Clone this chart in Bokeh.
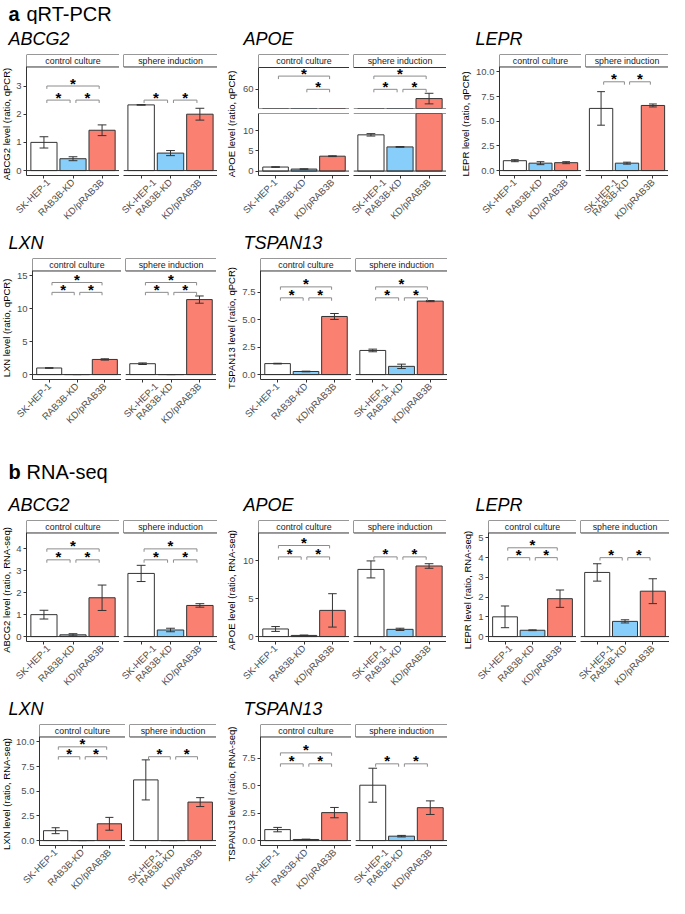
import math
from bokeh.plotting import figure
from bokeh.models import Range1d, FixedTicker, BoxAnnotation, Label, Span, Spacer
from bokeh.layouts import row, column
from bokeh.embed import file_html
from bokeh.resources import INLINE
from bokeh.core.properties import value

FONT = "Liberation Sans"
DARK = "#333333"
GREY = "#8c8c8c"

groups = ["SK-HEP-1", "RAB3B-KD", "KD/pRAB3B"]
conditions = ["control culture", "sphere induction"]
bar_colors = ["#FFFFFF", "#87CEFA", "#FA8072"]

# ---------------- a: qRT-PCR ----------------
qpcr_abcg2_ctrl = [1.0, 0.42, 1.43]
qpcr_abcg2_ctrl_err = [0.2, 0.07, 0.19]
qpcr_abcg2_sph = [2.33, 0.62, 2.0]
qpcr_abcg2_sph_err = [0.01, 0.09, 0.21]
qpcr_abcg2_ticks = [0, 1, 2, 3]
qpcr_abcg2_tick_labels = ["0", "1", "2", "3"]
qpcr_abcg2_limits = [-0.175, 3.675]
qpcr_abcg2_sig_ctrl = [(0, 1, 2.5), (1, 2, 2.5), (0, 2, 3.0)]
qpcr_abcg2_sig_sph = [(0, 1, 2.5), (1, 2, 2.5)]

qpcr_apoe_ctrl = [1.0, 0.5, 3.7]
qpcr_apoe_ctrl_err = [0.08, 0.05, 0.1]
qpcr_apoe_sph = [9.0, 6.0, 53.0]
qpcr_apoe_sph_err = [0.3, 0.1, 4.0]
qpcr_apoe_ticks = [0, 5, 10]
qpcr_apoe_tick_labels = ["0", "5", "10"]
qpcr_apoe_limits = [-1.1, 14.3]
qpcr_apoe_upper_ticks = [60]
qpcr_apoe_upper_tick_labels = ["60"]
qpcr_apoe_upper_limits = [45.5, 76.5]
qpcr_apoe_sig_ctrl = [(1, 2, 60.0), (0, 2, 70.0)]
qpcr_apoe_sig_sph = [(0, 1, 60.0), (1, 2, 60.0), (0, 2, 70.0)]

qpcr_lepr_ctrl = [1.0, 0.75, 0.8]
qpcr_lepr_ctrl_err = [0.1, 0.15, 0.1]
qpcr_lepr_sph = [6.3, 0.75, 6.6]
qpcr_lepr_sph_err = [1.7, 0.1, 0.15]
qpcr_lepr_ticks = [0, 2.5, 5, 7.5, 10]
qpcr_lepr_tick_labels = ["0.0", "2.5", "5.0", "7.5", "10.0"]
qpcr_lepr_limits = [-0.5, 10.5]
qpcr_lepr_sig_ctrl = []
qpcr_lepr_sig_sph = [(0, 1, 9.0), (1, 2, 9.0)]

qpcr_lxn_ctrl = [1.0, 0.0, 2.3]
qpcr_lxn_ctrl_err = [0.05, 0.0, 0.1]
qpcr_lxn_sph = [1.65, 0.0, 11.4]
qpcr_lxn_sph_err = [0.12, 0.0, 0.55]
qpcr_lxn_ticks = [0, 5, 10, 15]
qpcr_lxn_tick_labels = ["0", "5", "10", "15"]
qpcr_lxn_limits = [-0.75, 15.75]
qpcr_lxn_sig_ctrl = [(0, 1, 12.5), (1, 2, 12.5), (0, 2, 14.0)]
qpcr_lxn_sig_sph = [(0, 1, 12.5), (1, 2, 12.5), (0, 2, 14.0)]

qpcr_tspan13_ctrl = [1.0, 0.28, 5.3]
qpcr_tspan13_ctrl_err = [0.03, 0.03, 0.27]
qpcr_tspan13_sph = [2.2, 0.75, 6.7]
qpcr_tspan13_sph_err = [0.12, 0.2, 0.05]
qpcr_tspan13_ticks = [0, 2.5, 5, 7.5]
qpcr_tspan13_tick_labels = ["0.0", "2.5", "5.0", "7.5"]
qpcr_tspan13_limits = [-0.45, 9.45]
qpcr_tspan13_sig_ctrl = [(0, 1, 7.0), (1, 2, 7.0), (0, 2, 8.0)]
qpcr_tspan13_sig_sph = [(0, 1, 7.0), (1, 2, 7.0), (0, 2, 8.0)]

# ---------------- b: RNA-seq ----------------
rna_abcg2_ctrl = [1.0, 0.08, 1.77]
rna_abcg2_ctrl_err = [0.2, 0.05, 0.58]
rna_abcg2_sph = [2.88, 0.3, 1.42]
rna_abcg2_sph_err = [0.37, 0.08, 0.08]
rna_abcg2_ticks = [0, 1, 2, 3, 4]
rna_abcg2_tick_labels = ["0", "1", "2", "3", "4"]
rna_abcg2_limits = [-0.225, 4.725]
rna_abcg2_sig_ctrl = [(0, 1, 3.5), (1, 2, 3.5), (0, 2, 4.0)]
rna_abcg2_sig_sph = [(0, 1, 3.5), (1, 2, 3.5), (0, 2, 4.0)]

rna_apoe_ctrl = [1.0, 0.15, 3.45]
rna_apoe_ctrl_err = [0.32, 0.05, 2.2]
rna_apoe_sph = [8.85, 0.95, 9.3]
rna_apoe_sph_err = [1.12, 0.15, 0.3]
rna_apoe_ticks = [0, 5, 10]
rna_apoe_tick_labels = ["0", "5", "10"]
rna_apoe_limits = [-0.65, 13.65]
rna_apoe_sig_ctrl = [(0, 1, 10.5), (1, 2, 10.5), (0, 2, 12.0)]
rna_apoe_sig_sph = [(0, 1, 10.5), (1, 2, 10.5)]

rna_lepr_ctrl = [1.0, 0.32, 1.92]
rna_lepr_ctrl_err = [0.55, 0.02, 0.44]
rna_lepr_sph = [3.25, 0.77, 2.3]
rna_lepr_sph_err = [0.44, 0.08, 0.63]
rna_lepr_ticks = [0, 1, 2, 3, 4, 5]
rna_lepr_tick_labels = ["0", "1", "2", "3", "4", "5"]
rna_lepr_limits = [-0.25, 5.25]
rna_lepr_sig_ctrl = [(0, 1, 4.0), (1, 2, 4.0), (0, 2, 4.5)]
rna_lepr_sig_sph = [(0, 1, 4.0), (1, 2, 4.0)]

rna_lxn_ctrl = [1.0, 0.0, 1.7]
rna_lxn_ctrl_err = [0.3, 0.0, 0.65]
rna_lxn_sph = [6.15, 0.0, 3.9]
rna_lxn_sph_err = [2.03, 0.0, 0.45]
rna_lxn_ticks = [0, 2.5, 5, 7.5, 10]
rna_lxn_tick_labels = ["0.0", "2.5", "5.0", "7.5", "10.0"]
rna_lxn_limits = [-0.5, 10.5]
rna_lxn_sig_ctrl = [(0, 1, 8.5), (1, 2, 8.5), (0, 2, 9.5)]
rna_lxn_sig_sph = [(0, 1, 8.5), (1, 2, 8.5)]

rna_tspan13_ctrl = [1.0, 0.1, 2.55]
rna_tspan13_ctrl_err = [0.2, 0.03, 0.47]
rna_tspan13_sph = [5.05, 0.4, 3.0]
rna_tspan13_sph_err = [1.55, 0.07, 0.62]
rna_tspan13_ticks = [0, 2.5, 5, 7.5]
rna_tspan13_tick_labels = ["0.0", "2.5", "5.0", "7.5"]
rna_tspan13_limits = [-0.45, 9.45]
rna_tspan13_sig_ctrl = [(0, 1, 7.0), (1, 2, 7.0), (0, 2, 8.0)]
rna_tspan13_sig_sph = [(0, 1, 7.0), (1, 2, 7.0)]

# ---------------- layout constants ----------------
GAP = 4
TOP_B = 2
FRAME_H = 126
STRIP = 13
LABEL_W = 13
TITLE_H = 28


def base_fig(w, h, xr, yr, **kw):
    p = figure(width=w, height=h, x_range=xr, y_range=yr, title=None,
               output_backend="svg", toolbar_location=None, tools="", **kw)
    p.outline_line_color = None
    p.background_fill_color = "white"
    p.border_fill_color = "white"
    return p


def style_axis(ax):
    ax.axis_line_color = DARK
    ax.axis_line_width = 1
    ax.major_tick_line_color = DARK
    ax.minor_tick_line_color = None
    ax.major_tick_out = 3
    ax.major_tick_in = 0
    ax.major_label_standoff = 2
    ax.major_label_text_font = FONT
    ax.major_label_text_font_size = "9.5px"
    ax.major_label_text_color = "#4d4d4d"


def facet(means, errs, sigs, lims, ticks, tlabels, strip_text, *, left_b, frame_w,
          top_b, frame_h, bottom_b, strip_px, show_y, show_x,
          line_top=False, line_bottom=False):
    lo, hi = lims
    panel_h = frame_h - strip_px
    top = hi + (hi - lo) * strip_px / panel_h
    p = base_fig(left_b + frame_w, top_b + frame_h + bottom_b,
                 Range1d(0.4, 3.6), Range1d(lo, top),
                 min_border_left=left_b, min_border_right=0,
                 min_border_top=top_b, min_border_bottom=bottom_b)
    p.xgrid.visible = False
    p.ygrid.visible = False

    xs = [i + 1 for i in range(len(groups))]
    p.vbar(x=xs, top=means, bottom=0, width=0.9, fill_color=bar_colors,
           line_color=DARK, line_width=1)
    lo_e = [m - e for m, e in zip(means, errs)]
    hi_e = [m + e for m, e in zip(means, errs)]
    p.segment(x0=xs, y0=lo_e, x1=xs, y1=hi_e, line_color=DARK, line_width=1)
    cl = [x - 0.15 for x in xs]
    cr = [x + 0.15 for x in xs]
    p.segment(x0=cl, y0=hi_e, x1=cr, y1=hi_e, line_color=DARK, line_width=1)
    p.segment(x0=cl, y0=lo_e, x1=cr, y1=lo_e, line_color=DARK, line_width=1)
    p.add_layout(Span(location=0, dimension="width", line_color=DARK, line_width=1))

    # only the significance brackets that fall inside this (segment of the) axis
    sigs = [s for s in sigs if lo <= s[2] <= hi]
    if sigs:
        upp = (hi - lo) / panel_h
        tip = 3 * upp
        bx0 = [s[0] + 1 + 0.1 for s in sigs]
        bx1 = [s[1] + 1 - 0.1 for s in sigs]
        by = [s[2] for s in sigs]
        byt = [y - tip for y in by]
        p.segment(x0=bx0, y0=by, x1=bx1, y1=by, line_color=GREY, line_width=1)
        p.segment(x0=bx0, y0=by, x1=bx0, y1=byt, line_color=GREY, line_width=1)
        p.segment(x0=bx1, y0=by, x1=bx1, y1=byt, line_color=GREY, line_width=1)
        sx = [(s[0] + s[1]) / 2 + 1 for s in sigs]
        p.text(x=sx, y=by, text=["*"] * len(sigs), text_font=value(FONT),
               text_font_size="15px", text_align="center", text_font_style="bold",
               text_baseline="middle", y_offset=-3, text_color="black")

    if strip_px > 0:
        p.add_layout(BoxAnnotation(bottom=hi, fill_color="white", fill_alpha=1,
                                   line_color=DARK, line_width=1, line_alpha=1))
        p.add_layout(Label(x=2, y=(hi + top) / 2, text=strip_text,
                           text_align="center", text_baseline="middle",
                           text_font=FONT, text_font_size="8.8px",
                           text_color="#1a1a1a"))
    if line_top:
        p.add_layout(Span(location=hi, dimension="width", line_color=DARK, line_width=1))
    if line_bottom:
        p.add_layout(Span(location=lo, dimension="width", line_color=DARK, line_width=1))

    if show_y:
        ax = p.yaxis[0]
        ax.ticker = FixedTicker(ticks=ticks)
        ax.major_label_overrides = {t: l for t, l in zip(ticks, tlabels)}
        ax.bounds = (lo, hi)
        style_axis(ax)
    else:
        p.yaxis.visible = False

    if show_x:
        ax = p.xaxis[0]
        ax.ticker = FixedTicker(ticks=xs)
        ax.major_label_overrides = {x: g for x, g in zip(xs, groups)}
        ax.major_label_orientation = math.pi / 4
        style_axis(ax)
    else:
        p.xaxis.visible = False
    return p


def text_fig(w, h, pieces):
    p = base_fig(w, h, Range1d(0, w), Range1d(0, h),
                 x_axis_type=None, y_axis_type=None, min_border=0)
    for (x, y, txt, size, style) in pieces:
        p.add_layout(Label(x=x, y=y, text=txt, text_font=FONT, text_font_size=size,
                           text_font_style=style, text_align="left",
                           text_baseline="alphabetic", text_color="black"))
    return p


def ylabel_fig(text, w, h, bottom_b):
    # a y-axis that only shows its title, centred on the panel (strip excluded)
    p = base_fig(w, h, Range1d(0, 1), Range1d(0, 1), x_axis_type=None,
                 min_border_left=w - 1, min_border_right=0,
                 min_border_top=TOP_B + STRIP, min_border_bottom=bottom_b)
    p.ygrid.visible = False
    ax = p.yaxis[0]
    ax.ticker = FixedTicker(ticks=[])
    ax.axis_line_color = None
    ax.major_tick_line_color = None
    ax.minor_tick_line_color = None
    ax.major_tick_out = 0
    ax.major_tick_in = 0
    ax.major_label_standoff = 0
    ax.axis_label = text
    ax.axis_label_standoff = 2
    ax.axis_label_text_font = FONT
    ax.axis_label_text_font_size = "9.5px"
    ax.axis_label_text_font_style = "normal"
    ax.axis_label_text_color = "black"
    # wrapped in its own column so its borders are not aligned with the facets
    return column(p)


def title_fig(gene, w, pad):
    return text_fig(w, TITLE_H, [(pad, 14, gene, "18px", "italic")])


def build_panel(spec, pw, pad, tick_w, rm, bottom_b, tpad):
    lw = pad + LABEL_W
    free = pw - lw - tick_w - GAP - rm
    wf = free // 2
    spacer_w = pw - lw - tick_w - GAP - 2 * wf
    fig_h = TOP_B + FRAME_H + bottom_b
    lab = ylabel_fig(spec["ylabel"], lw, fig_h, bottom_b)
    kw = dict(frame_w=wf, top_b=TOP_B, frame_h=FRAME_H, bottom_b=bottom_b,
              strip_px=STRIP, show_x=True)
    fl = facet(spec["ctrl"], spec["ctrl_err"], spec["sig_ctrl"], spec["limits"],
               spec["ticks"], spec["tick_labels"], conditions[0],
               left_b=tick_w, show_y=True, **kw)
    fr = facet(spec["sph"], spec["sph_err"], spec["sig_sph"], spec["limits"],
               spec["ticks"], spec["tick_labels"], conditions[1],
               left_b=GAP, show_y=False, **kw)
    kids = [lab, fl, fr]
    if spacer_w > 0:
        kids.append(Spacer(width=spacer_w, height=fig_h))
    return column(title_fig(spec["gene"], pw, tpad), row(*kids))


def build_broken_panel(spec, pw, pad, tick_w, rm, bottom_b, tpad):
    lw = pad + LABEL_W
    free = pw - lw - tick_w - GAP - rm
    wf = free // 2
    spacer_w = pw - lw - tick_w - GAP - 2 * wf
    fig_h = TOP_B + FRAME_H + bottom_b
    up_frame = STRIP + 41
    low_top = 4
    low_frame = FRAME_H - up_frame - 1 - low_top
    lab = ylabel_fig(spec["ylabel"], lw, fig_h, bottom_b)
    cols = []
    for k, (m, e, s) in enumerate([(spec["ctrl"], spec["ctrl_err"], spec["sig_ctrl"]),
                                   (spec["sph"], spec["sph_err"], spec["sig_sph"])]):
        lb = tick_w if k == 0 else GAP
        up = facet(m, e, s, spec["upper_limits"], spec["upper_ticks"],
                   spec["upper_tick_labels"], conditions[k], left_b=lb, frame_w=wf,
                   top_b=TOP_B, frame_h=up_frame, bottom_b=1, strip_px=STRIP,
                   show_y=(k == 0), show_x=False, line_bottom=True)
        low = facet(m, e, s, spec["limits"], spec["ticks"], spec["tick_labels"],
                    conditions[k], left_b=lb, frame_w=wf, top_b=low_top,
                    frame_h=low_frame, bottom_b=bottom_b, strip_px=0,
                    show_y=(k == 0), show_x=True, line_top=True)
        cols.append(column(up, low))
    kids = [lab, cols[0], cols[1]]
    if spacer_w > 0:
        kids.append(Spacer(width=spacer_w, height=fig_h))
    return column(title_fig(spec["gene"], pw, tpad), row(*kids))


def spec_of(prefix, gene, ylabel):
    g = globals()
    d = dict(gene=gene, ylabel=ylabel)
    for key in ["ctrl", "ctrl_err", "sph", "sph_err", "ticks", "tick_labels",
                "limits", "sig_ctrl", "sig_sph"]:
        d[key] = g[f"{prefix}_{key}"]
    for key in ["upper_ticks", "upper_tick_labels", "upper_limits"]:
        if f"{prefix}_{key}" in g:
            d[key] = g[f"{prefix}_{key}"]
    return d


PW = [222, 230, 217]
RM = [5, 5, 0]
B = 48

row1 = row(
    build_panel(spec_of("qpcr_abcg2", "ABCG2", "ABCG2 level (ratio, qPCR)"), PW[0], 0, 12, RM[0], B, 8),
    build_broken_panel(spec_of("qpcr_apoe", "APOE", "APOE level (ratio, qPCR)"), PW[1], 4, 17, RM[1], B, 21),
    build_panel(spec_of("qpcr_lepr", "LEPR", "LEPR level (ratio, qPCR)"), PW[2], 8, 25, RM[2], B, 23),
)
row2 = row(
    build_panel(spec_of("qpcr_lxn", "LXN", "LXN level (ratio, qPCR)"), PW[0], 0, 17, RM[0], B, 8),
    build_panel(spec_of("qpcr_tspan13", "TSPAN13", "TSPAN13 level (ratio, qPCR)"), PW[1], 4, 20, RM[1], B, 21),
    Spacer(width=PW[2], height=TITLE_H + TOP_B + FRAME_H + B),
)
row3 = row(
    build_panel(spec_of("rna_abcg2", "ABCG2", "ABCG2 level (ratio, RNA-seq)"), PW[0], 0, 12, RM[0], B, 8),
    build_panel(spec_of("rna_apoe", "APOE", "APOE level (ratio, RNA-seq)"), PW[1], 4, 17, RM[1], B, 21),
    build_panel(spec_of("rna_lepr", "LEPR", "LEPR level (ratio, RNA-seq)"), PW[2], 10, 12, RM[2], B, 23),
)
row4 = row(
    build_panel(spec_of("rna_lxn", "LXN", "LXN level (ratio, RNA-seq)"), PW[0], 0, 25, RM[0], B, 8),
    build_panel(spec_of("rna_tspan13", "TSPAN13", "TSPAN13 level (ratio, RNA-seq)"), PW[1], 4, 20, RM[1], B, 21),
    Spacer(width=PW[2], height=TITLE_H + TOP_B + FRAME_H + B),
)

TOTAL_W = sum(PW)
sec_a = text_fig(TOTAL_W, 24, [(8, 11, "a", "20px", "bold"),
                               (26, 11, "qRT-PCR", "20px", "normal")])
sec_b = text_fig(TOTAL_W, 58, [(8, 19, "b", "20px", "bold"),
                               (26, 19, "RNA-seq", "20px", "normal")])

layout = column(sec_a, row1, row2, sec_b, row3, row4)

open("out.html", "w").write(file_html(layout, INLINE))
